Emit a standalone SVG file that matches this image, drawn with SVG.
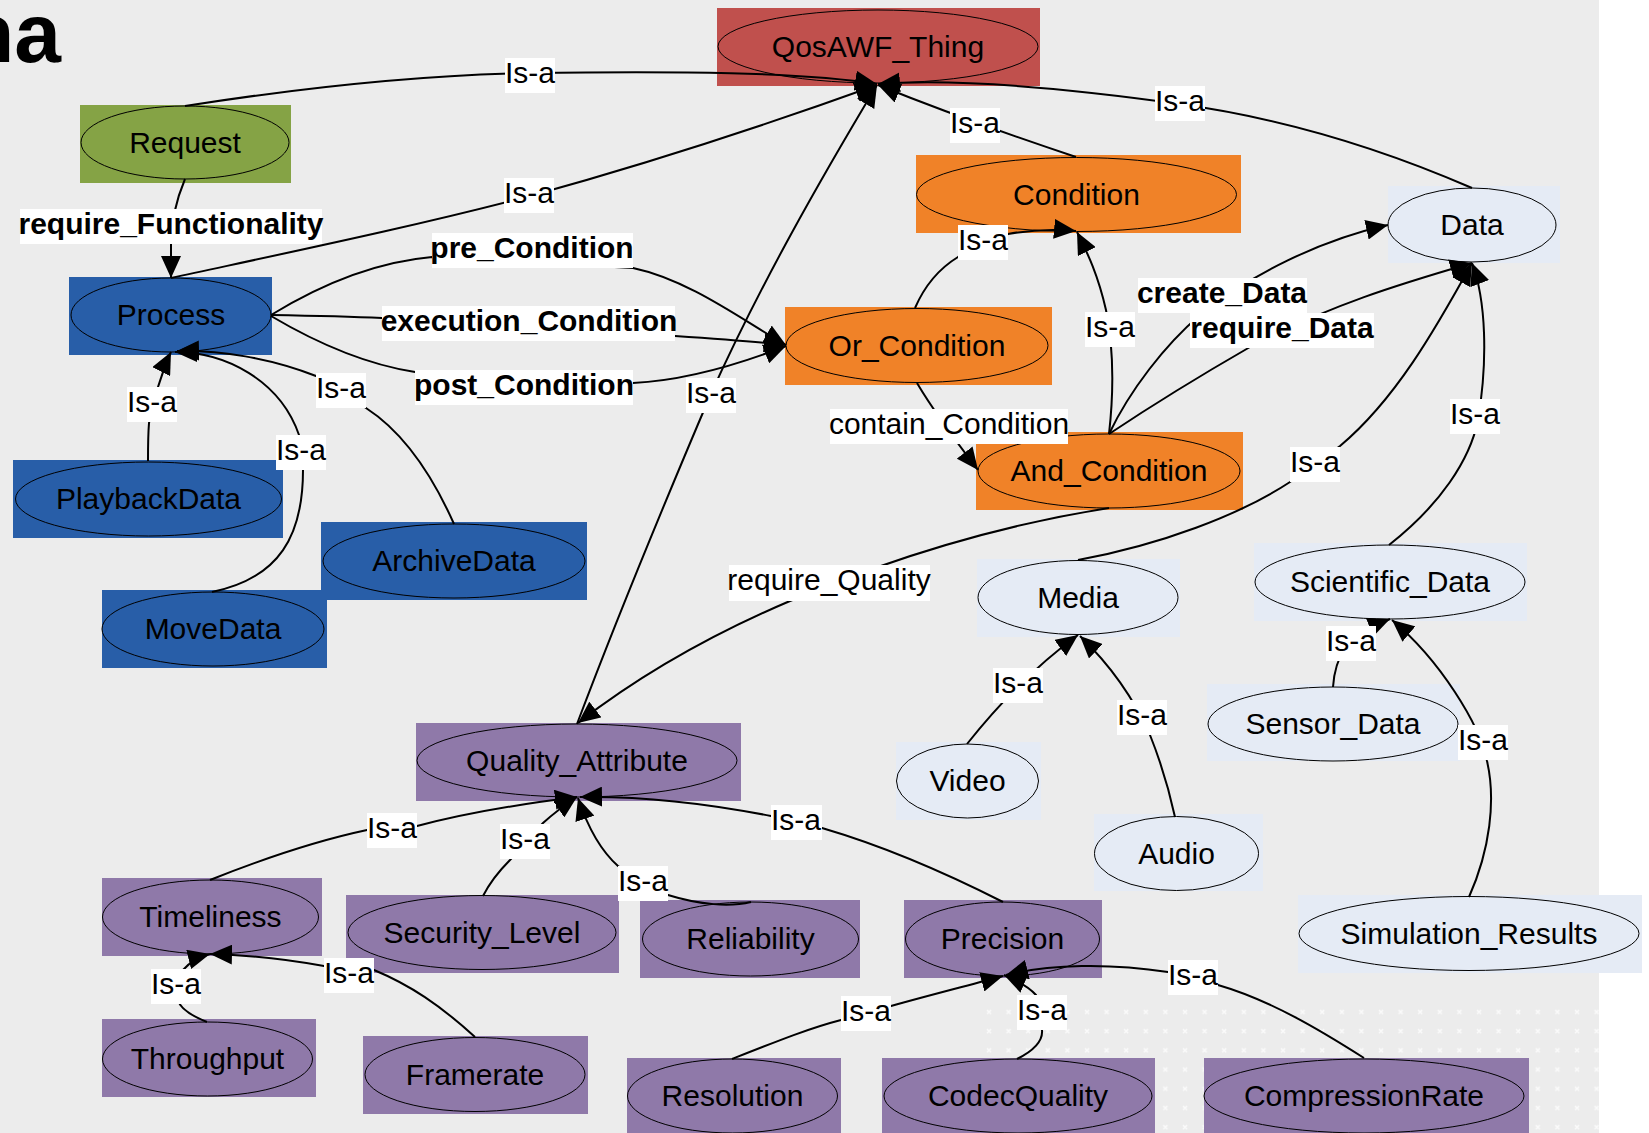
<svg xmlns="http://www.w3.org/2000/svg" width="1649" height="1133" viewBox="0 0 1649 1133">
<style>
.t{font-family:"Liberation Sans",Arial,sans-serif;font-size:30px;text-anchor:middle;fill:#000}
.b{font-weight:bold}
.el{stroke:#000;stroke-width:1}
.red{fill:#c0504d}.green{fill:#85a345}.blue{fill:#285ea8}.orange{fill:#f08228}.light{fill:#e5ebf5}.purple{fill:#8f79a9}
.edge{fill:none;stroke:#000;stroke-width:2;marker-end:url(#arr)}
.lb{fill:#fff}
</style>
<defs>
<marker id="arr" markerWidth="22" markerHeight="20" refX="22" refY="10" orient="auto" markerUnits="userSpaceOnUse"><path d="M0,0 L22,10 L0,20 z" fill="#000"/></marker>
<pattern id="dots" x="984" y="1007" width="19.6" height="19.2" patternUnits="userSpaceOnUse"><path d="M3,3 l4,4 M7,3 l-4,4" stroke="#fafafa" stroke-width="1.4"/></pattern>
</defs>
<rect x="0" y="0" width="1649" height="1133" fill="#fff"/>
<rect x="0" y="0" width="1599" height="1133" fill="#ececec"/>
<rect x="984" y="1007" width="615" height="126" fill="url(#dots)"/>
<text x="61" y="62" font-family="Liberation Sans,Arial,sans-serif" font-weight="bold" font-size="84" text-anchor="end" fill="#000">na</text>

<g id="n_qos"><rect class="red" x="717" y="8" width="323" height="78"/><ellipse class="el red" cx="878" cy="46.5" rx="160" ry="36.5"/><text class="t" x="878" y="57">QosAWF_Thing</text></g>
<g id="n_request"><rect class="green" x="80" y="105" width="211" height="78"/><ellipse class="el green" cx="185" cy="142.5" rx="104" ry="36.5"/><text class="t" x="185" y="153">Request</text></g>
<g id="n_process"><rect class="blue" x="69" y="277" width="203" height="78"/><ellipse class="el blue" cx="171" cy="315" rx="100" ry="37"/><text class="t" x="171" y="325">Process</text></g>
<g id="n_playback"><rect class="blue" x="13" y="460" width="270" height="78"/><ellipse class="el blue" cx="148.5" cy="499" rx="133" ry="37"/><text class="t" x="148.5" y="509">PlaybackData</text></g>
<g id="n_move"><rect class="blue" x="102" y="590" width="225" height="78"/><ellipse class="el blue" cx="213" cy="629" rx="111" ry="37"/><text class="t" x="213" y="639">MoveData</text></g>
<g id="n_archive"><rect class="blue" x="321" y="522" width="266" height="78"/><ellipse class="el blue" cx="454" cy="561" rx="131" ry="37"/><text class="t" x="454" y="571">ArchiveData</text></g>
<g id="n_condition"><rect class="orange" x="916" y="155" width="325" height="78"/><ellipse class="el orange" cx="1076.5" cy="194.5" rx="160" ry="37"/><text class="t" x="1076.5" y="204.5">Condition</text></g>
<g id="n_or"><rect class="orange" x="785" y="307" width="267" height="78"/><ellipse class="el orange" cx="917" cy="345.5" rx="131" ry="37"/><text class="t" x="917" y="355.5">Or_Condition</text></g>
<g id="n_and"><rect class="orange" x="976" y="432" width="267" height="78"/><ellipse class="el orange" cx="1109" cy="471" rx="131" ry="37"/><text class="t" x="1109" y="481">And_Condition</text></g>
<g id="n_data"><rect class="light" x="1388" y="186" width="172" height="77"/><ellipse class="el light" cx="1472" cy="225" rx="84" ry="37"/><text class="t" x="1472" y="235">Data</text></g>
<g id="n_media"><rect class="light" x="977" y="559" width="203" height="78"/><ellipse class="el light" cx="1078" cy="597.5" rx="100" ry="37"/><text class="t" x="1078" y="607.5">Media</text></g>
<g id="n_video"><rect class="light" x="896" y="742" width="145" height="78"/><ellipse class="el light" cx="967.5" cy="781" rx="71" ry="37"/><text class="t" x="967.5" y="791">Video</text></g>
<g id="n_audio"><rect class="light" x="1094" y="814" width="169" height="77"/><ellipse class="el light" cx="1176.5" cy="853.5" rx="82" ry="37"/><text class="t" x="1176.5" y="863.5">Audio</text></g>
<g id="n_sci"><rect class="light" x="1254" y="543" width="273" height="78"/><ellipse class="el light" cx="1390" cy="582" rx="135" ry="37"/><text class="t" x="1390" y="592">Scientific_Data</text></g>
<g id="n_sensor"><rect class="light" x="1207" y="684" width="253" height="77"/><ellipse class="el light" cx="1333" cy="724" rx="125" ry="37"/><text class="t" x="1333" y="734">Sensor_Data</text></g>
<g id="n_sim"><rect class="light" x="1298" y="895" width="344" height="78"/><ellipse class="el light" cx="1469" cy="933.5" rx="170" ry="37"/><text class="t" x="1469" y="943.5">Simulation_Results</text></g>
<g id="n_qa"><rect class="purple" x="416" y="723" width="325" height="78"/><ellipse class="el purple" cx="577" cy="760.5" rx="160" ry="36.5"/><text class="t" x="577" y="770.5">Quality_Attribute</text></g>
<g id="n_time"><rect class="purple" x="102" y="878" width="220" height="78"/><ellipse class="el purple" cx="210.5" cy="917" rx="108" ry="37"/><text class="t" x="210.5" y="927">Timeliness</text></g>
<g id="n_sec"><rect class="purple" x="346" y="895" width="273" height="78"/><ellipse class="el purple" cx="482" cy="932.5" rx="134" ry="37"/><text class="t" x="482" y="942.5">Security_Level</text></g>
<g id="n_through"><rect class="purple" x="102" y="1019" width="214" height="78"/><ellipse class="el purple" cx="207.5" cy="1059" rx="105" ry="37"/><text class="t" x="207.5" y="1069">Throughput</text></g>
<g id="n_frame"><rect class="purple" x="363" y="1036" width="225" height="78"/><ellipse class="el purple" cx="475" cy="1074.5" rx="110" ry="37"/><text class="t" x="475" y="1084.5">Framerate</text></g>
<g id="n_rel"><rect class="purple" x="640" y="900" width="220" height="78"/><ellipse class="el purple" cx="750.5" cy="939" rx="108" ry="37"/><text class="t" x="750.5" y="949">Reliability</text></g>
<g id="n_prec"><rect class="purple" x="904" y="900" width="198" height="78"/><ellipse class="el purple" cx="1002.5" cy="939" rx="97" ry="37"/><text class="t" x="1002.5" y="949">Precision</text></g>
<g id="n_res"><rect class="purple" x="627" y="1058" width="214" height="78"/><ellipse class="el purple" cx="732.5" cy="1096" rx="105" ry="37"/><text class="t" x="732.5" y="1106">Resolution</text></g>
<g id="n_codec"><rect class="purple" x="882" y="1058" width="273" height="78"/><ellipse class="el purple" cx="1018" cy="1096" rx="134" ry="37"/><text class="t" x="1018" y="1106">CodecQuality</text></g>
<g id="n_comp"><rect class="purple" x="1204" y="1058" width="325" height="78"/><ellipse class="el purple" cx="1364" cy="1096" rx="160" ry="37"/><text class="t" x="1364" y="1106">CompressionRate</text></g>

<g id="connectors">
<path class="edge" d="M185,106 C300,88 420,75 530,73 C680,71 800,72 877,84"/>
<path class="edge" d="M171,278 C300,250 420,225 530,196 C650,163 780,120 877,85"/>
<path class="edge" d="M577,724 C620,610 670,490 710,396 C760,285 820,180 877,85"/>
<path class="edge" d="M1076,157 C1010,135 940,110 878,85"/>
<path class="edge" d="M1472,188 C1380,148 1280,118 1180,104 C1080,90 960,78 878,84"/>
<path class="edge" d="M185,179 C177,198 171,220 171,245 L171,278"/>
<path class="edge" d="M271,315 C320,285 375,262 432,257 L633,268 C690,280 745,322 786,345"/>
<path class="edge" d="M271,315 C330,316 360,317 382,318 L675,336 C720,339 760,342 786,345"/>
<path class="edge" d="M271,316 C320,345 370,365 415,372 L633,383 C690,380 745,362 786,346"/>
<path class="edge" d="M915,308 C925,285 940,268 958,257 L1008,234 C1030,230 1055,229 1076,231"/>
<path class="edge" d="M1109,434 C1114,390 1113,345 1106,310 C1098,275 1088,254 1077,232"/>
<path class="edge" d="M917,383 C930,405 955,440 978,470"/>
<path class="edge" d="M1109,434 C1130,390 1165,345 1200,315 C1250,275 1320,240 1388,225"/>
<path class="edge" d="M1109,434 C1160,400 1210,370 1250,347 C1330,305 1400,284 1472,263"/>
<path class="edge" d="M1078,560 C1160,545 1240,515 1290,482 L1340,446 C1395,400 1435,330 1472,263"/>
<path class="edge" d="M1389,545 C1440,505 1470,460 1478,420 C1488,360 1486,300 1472,263"/>
<path class="edge" d="M967,744 C990,715 1030,670 1078,635"/>
<path class="edge" d="M1175,817 C1168,785 1160,760 1150,735 C1130,690 1105,660 1080,636"/>
<path class="edge" d="M1333,687 C1334,672 1337,660 1345,648 C1360,635 1375,625 1390,619"/>
<path class="edge" d="M1469,897 C1490,850 1496,800 1487,761 C1480,725 1440,660 1392,620"/>
<path class="edge" d="M1109,508 C1020,522 940,545 875,568 L790,601 C710,635 640,675 578,723"/>
<path class="edge" d="M210,880 C260,860 320,840 367,830 L417,826 C470,812 520,804 577,797"/>
<path class="edge" d="M483,896 C490,882 500,870 510,860 L543,823 C555,812 565,805 577,797"/>
<path class="edge" d="M751,902 C730,907 700,905 668,895 L618,866 C600,850 588,828 578,798"/>
<path class="edge" d="M1003,902 C940,870 880,845 822,828 L771,816 C700,802 640,796 580,797"/>
<path class="edge" d="M207,1022 C192,1016 180,1008 178,1000 L183,970 C190,962 198,957 210,954"/>
<path class="edge" d="M475,1037 C440,1005 410,985 374,970 L324,966 C280,958 250,955 210,954"/>
<path class="edge" d="M732,1059 C780,1040 810,1028 841,1020 L891,1006 C930,995 970,985 1003,976"/>
<path class="edge" d="M1017,1059 C1035,1050 1043,1040 1042,1030 L1036,995 C1028,986 1016,980 1004,975"/>
<path class="edge" d="M1364,1058 C1320,1030 1270,1000 1218,985 L1168,972 C1110,963 1050,964 1006,975"/>
<path class="edge" d="M148,461 C148,445 148,435 149,423 L158,387 C162,375 166,362 171,352"/>
<path class="edge" d="M212,592 C280,578 303,535 303,470 L299,435 C280,380 225,352 175,352"/>
<path class="edge" d="M454,524 C430,470 400,430 366,408 L316,376 C270,358 220,350 177,351"/>
</g>

<g id="edge-labels">
<rect class="lb" x="505" y="58" width="50" height="35"/><text class="t" x="530" y="83">Is-a</text>
<rect class="lb" x="504" y="178" width="50" height="35"/><text class="t" x="529" y="203">Is-a</text>
<rect class="lb" x="686" y="378" width="50" height="35"/><text class="t" x="711" y="403">Is-a</text>
<rect class="lb" x="950" y="108" width="50" height="35"/><text class="t" x="975" y="133">Is-a</text>
<rect class="lb" x="1155" y="86" width="50" height="35"/><text class="t" x="1180" y="111">Is-a</text>
<rect class="lb" x="20" y="209" width="302" height="35"/><text class="t b" x="171" y="234">require_Functionality</text>
<rect class="lb" x="432" y="233" width="201" height="35"/><text class="t b" x="532" y="258">pre_Condition</text>
<rect class="lb" x="382" y="306" width="293" height="35"/><text class="t b" x="529" y="331">execution_Condition</text>
<rect class="lb" x="415" y="370" width="218" height="35"/><text class="t b" x="524" y="395">post_Condition</text>
<rect class="lb" x="958" y="225" width="50" height="35"/><text class="t" x="983" y="250">Is-a</text>
<rect class="lb" x="1085" y="312" width="50" height="35"/><text class="t" x="1110" y="337">Is-a</text>
<rect class="lb" x="830" y="409" width="238" height="35"/><text class="t" x="949" y="434">contain_Condition</text>
<rect class="lb" x="1138" y="278" width="169" height="35"/><text class="t b" x="1222" y="303">create_Data</text>
<rect class="lb" x="1190" y="313" width="184" height="35"/><text class="t b" x="1282" y="338">require_Data</text>
<rect class="lb" x="1290" y="447" width="50" height="35"/><text class="t" x="1315" y="472">Is-a</text>
<rect class="lb" x="1450" y="399" width="50" height="35"/><text class="t" x="1475" y="424">Is-a</text>
<rect class="lb" x="993" y="668" width="50" height="35"/><text class="t" x="1018" y="693">Is-a</text>
<rect class="lb" x="1117" y="700" width="50" height="35"/><text class="t" x="1142" y="725">Is-a</text>
<rect class="lb" x="1326" y="626" width="50" height="35"/><text class="t" x="1351" y="651">Is-a</text>
<rect class="lb" x="1458" y="725" width="50" height="35"/><text class="t" x="1483" y="750">Is-a</text>
<rect class="lb" x="729" y="565" width="201" height="36"/><text class="t" x="829" y="590">require_Quality</text>
<rect class="lb" x="367" y="813" width="50" height="35"/><text class="t" x="392" y="838">Is-a</text>
<rect class="lb" x="500" y="824" width="50" height="35"/><text class="t" x="525" y="849">Is-a</text>
<rect class="lb" x="618" y="866" width="50" height="35"/><text class="t" x="643" y="891">Is-a</text>
<rect class="lb" x="771" y="805" width="51" height="35"/><text class="t" x="796" y="830">Is-a</text>
<rect class="lb" x="151" y="969" width="50" height="35"/><text class="t" x="176" y="994">Is-a</text>
<rect class="lb" x="324" y="958" width="50" height="35"/><text class="t" x="349" y="983">Is-a</text>
<rect class="lb" x="841" y="996" width="50" height="35"/><text class="t" x="866" y="1021">Is-a</text>
<rect class="lb" x="1017" y="995" width="50" height="35"/><text class="t" x="1042" y="1020">Is-a</text>
<rect class="lb" x="1168" y="960" width="50" height="35"/><text class="t" x="1193" y="985">Is-a</text>
<rect class="lb" x="127" y="387" width="50" height="35"/><text class="t" x="152" y="412">Is-a</text>
<rect class="lb" x="276" y="435" width="50" height="35"/><text class="t" x="301" y="460">Is-a</text>
<rect class="lb" x="316" y="373" width="50" height="35"/><text class="t" x="341" y="398">Is-a</text>
</g>
</svg>
